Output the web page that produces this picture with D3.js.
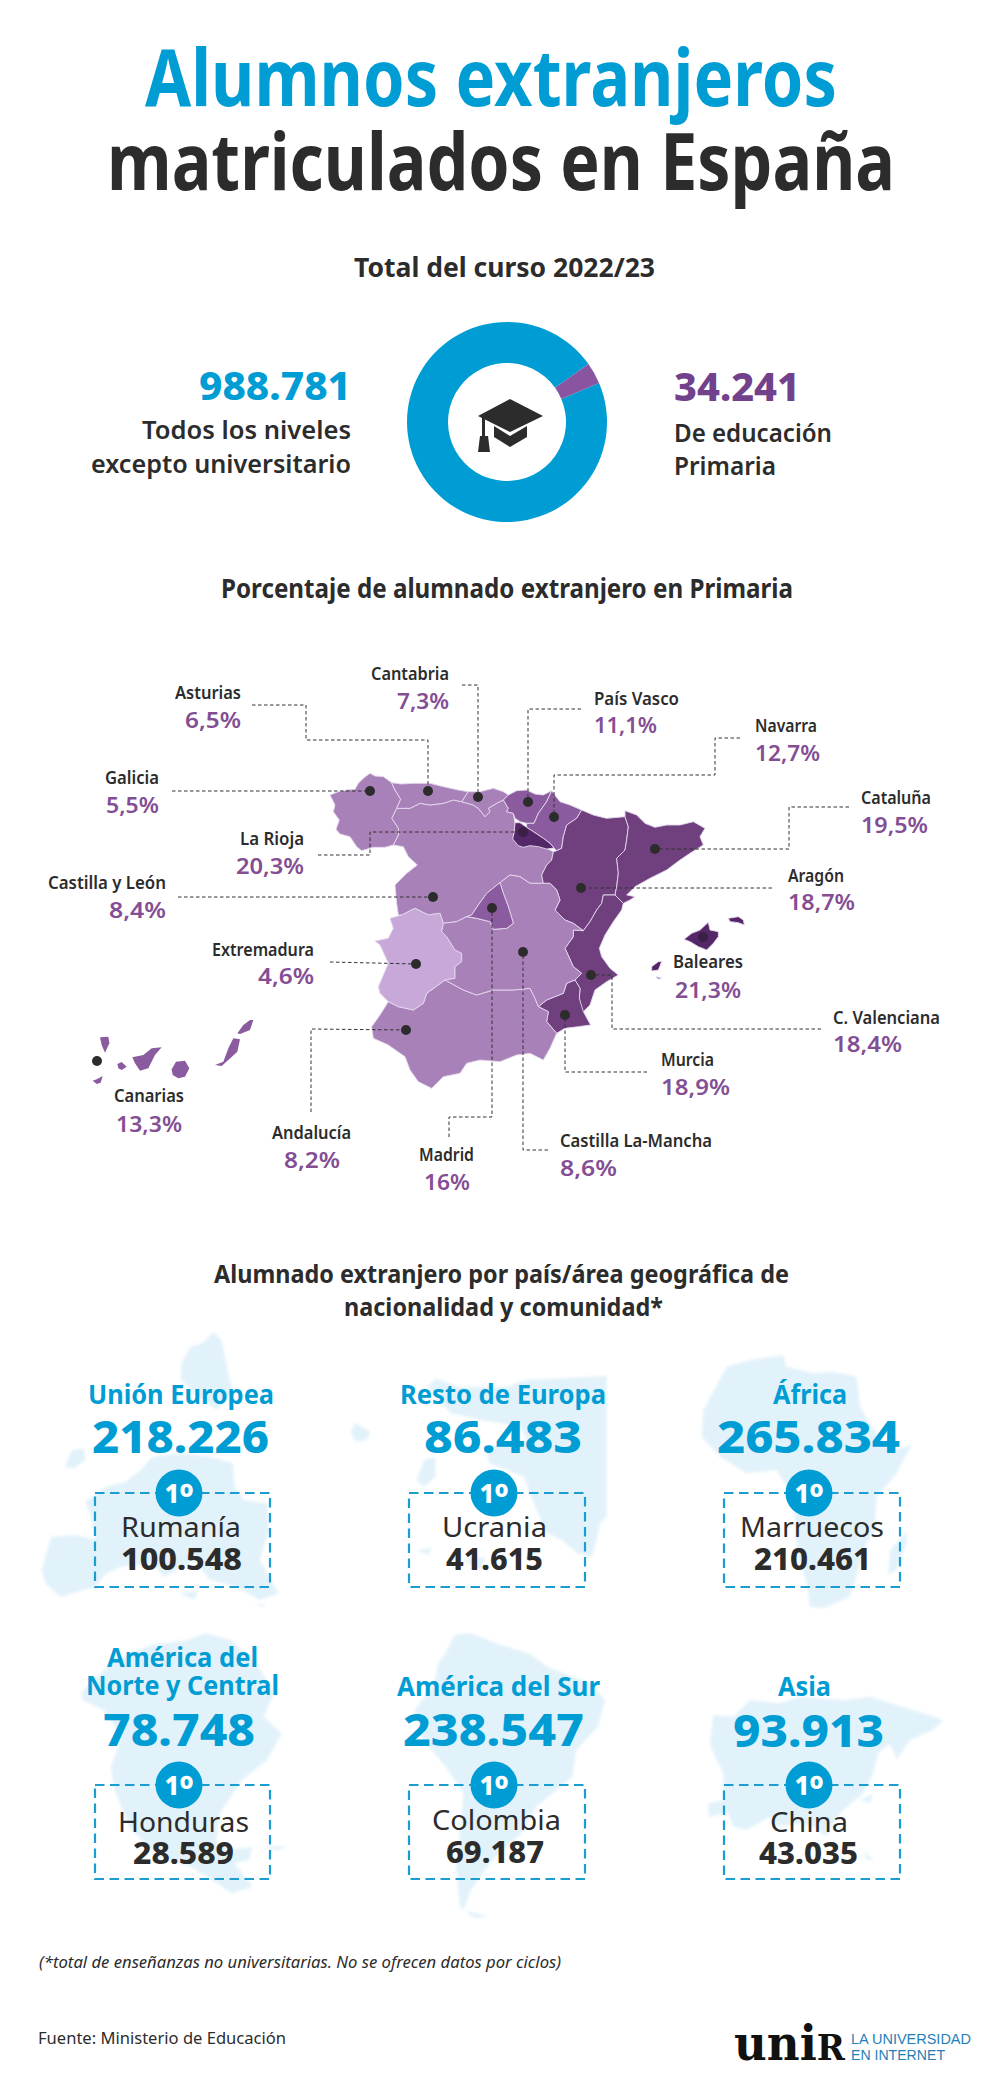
<!DOCTYPE html>
<html lang="es">
<head>
<meta charset="UTF-8">
<title>Alumnos extranjeros matriculados en España</title>
<script src="https://cdn.jsdelivr.net/npm/d3@7"></script>
<style>
  html, body { margin: 0; padding: 0; background: #fff; }
  svg { display: block; }
  text { font-family: "Noto Sans", "Open Sans", sans-serif; }
</style>
</head>
<body>
<div id="chart"></div>
<script>
// ---- data
var donutValues = [988781, 34241];

var regionNames = ['Asturias', 'Cantabria', 'País Vasco', 'Navarra', 'Galicia', 'La Rioja', 'Castilla y León',
  'Extremadura', 'Cataluña', 'Aragón', 'Baleares', 'C. Valenciana', 'Murcia', 'Canarias', 'Andalucía', 'Madrid', 'Castilla La-Mancha'];
var regionPct = [6.5, 7.3, 11.1, 12.7, 5.5, 20.3, 8.4, 4.6, 19.5, 18.7, 21.3, 18.4, 18.9, 13.3, 8.2, 16, 8.6];

var areaNames = [['Unión Europea'], ['Resto de Europa'], ['África'], ['América del', 'Norte y Central'], ['América del Sur'], ['Asia']];
var areaTotals = [218226, 86483, 265834, 78748, 238547, 93913];
var topCountries = ['Rumanía', 'Ucrania', 'Marruecos', 'Honduras', 'Colombia', 'China'];
var topValues = [100548, 41615, 210461, 28589, 69187, 43035];

// ---- region outlines, traced in the px of a 3x crop of the map
var regionShapes = {
  'Castilla y León': [[[212,205],[240,205],[270,190],[300,195],[340,190],[370,180],[395,185],[430,195],[445,205],[465,230],[480,215],[475,205],[500,190],[520,180],[535,205],[530,215],[550,220],[555,250],[550,295],[565,315],[580,320],[600,315],[625,318],[650,325],[670,335],[665,360],[650,375],[635,405],[640,430],[600,430],[570,410],[540,405],[510,428],[470,460],[445,495],[425,525],[410,530],[380,545],[340,550],[330,520],[295,525],[255,505],[215,525],[205,525],[200,490],[195,435],[230,400],[262,375],[235,350],[220,320],[190,315],[205,285],[205,265],[185,235],[200,205]]],
  'Galicia': [[[85,130],[100,115],[120,100],[135,108],[160,110],[185,128],[195,150],[212,178],[200,205],[185,235],[205,265],[205,285],[190,315],[165,322],[130,322],[95,332],[80,320],[60,290],[30,282],[18,268],[28,240],[10,215],[15,195],[0,165],[25,155],[50,150],[75,148]]],
  'Asturias': [[[185,128],[215,132],[250,130],[300,130],[340,140],[385,150],[415,155],[395,185],[370,180],[340,190],[300,195],[270,190],[240,205],[212,205],[200,205],[212,178],[195,150]]],
  'Cantabria': [[[415,155],[450,155],[490,145],[520,155],[535,165],[520,180],[500,190],[475,205],[480,215],[465,230],[445,205],[430,195],[395,185]]],
  'País Vasco': [[[520,180],[535,165],[560,152],[590,150],[615,162],[640,165],[665,152],[650,185],[625,220],[612,250],[590,250],[570,245],[555,235],[550,220],[530,215],[535,205]]],
  'Navarra': [[[665,152],[690,185],[720,195],[755,210],[740,235],[710,255],[700,290],[695,325],[680,332],[670,322],[660,310],[640,295],[610,275],[590,262],[590,250],[612,250],[625,220],[650,185]]],
  'La Rioja': [[[555,248],[570,248],[590,262],[610,275],[640,295],[660,310],[672,324],[650,327],[625,320],[600,317],[580,322],[565,317],[548,297],[553,275]]],
  'Aragón': [[[755,210],[790,225],[830,235],[885,230],[895,260],[890,300],[885,330],[860,355],[865,400],[860,440],[855,465],[820,465],[815,490],[800,510],[780,545],[760,572],[730,550],[705,540],[690,525],[675,510],[690,480],[680,450],[660,430],[640,430],[635,405],[650,375],[665,360],[670,335],[680,332],[695,325],[700,290],[710,255],[740,235]]],
  'Cataluña': [[[885,212],[920,225],[945,250],[975,262],[1010,255],[1050,255],[1090,245],[1125,265],[1110,290],[1120,315],[1080,340],[1050,360],[1010,390],[960,415],[915,440],[890,465],[915,470],[900,480],[880,490],[860,470],[855,465],[860,440],[865,400],[860,355],[885,330],[890,300],[895,260],[885,230]]],
  'C. Valenciana': [[[820,465],[855,465],[860,470],[880,490],[875,510],[850,545],[825,585],[808,625],[815,650],[840,685],[865,705],[830,725],[795,750],[780,795],[755,820],[748,775],[750,745],[735,720],[755,700],[730,680],[705,625],[730,590],[730,570],[760,572],[780,545],[800,510],[815,490]]],
  'Murcia': [[[735,720],[750,745],[748,775],[760,815],[782,855],[745,860],[705,865],[680,880],[650,845],[655,815],[625,800],[650,780],[700,760],[710,730]]],
  'Andalucía': [[[175,785],[205,800],[250,810],[280,790],[290,760],[345,720],[400,750],[440,765],[490,750],[550,750],[600,745],[615,775],[625,800],[655,815],[650,845],[680,880],[660,925],[640,960],[600,940],[560,945],[510,965],[450,960],[410,970],[390,1000],[340,1010],[305,1045],[265,1025],[240,990],[225,950],[175,915],[130,895],[125,860],[150,825]]],
  'Extremadura': [[[180,535],[215,525],[255,505],[295,525],[330,520],[340,550],[335,575],[350,590],[375,630],[395,640],[395,665],[375,680],[375,715],[345,720],[290,760],[280,790],[250,810],[205,800],[175,785],[150,760],[145,740],[175,670],[150,615],[135,603],[175,595],[190,565]]],
  'Castilla La-Mancha': [[[510,428],[540,405],[570,410],[600,430],[640,430],[660,430],[680,450],[690,480],[675,510],[690,525],[705,540],[730,550],[760,572],[730,570],[730,590],[705,625],[730,680],[755,700],[735,720],[710,730],[700,760],[650,780],[625,800],[615,775],[600,745],[550,750],[490,750],[440,765],[400,750],[345,720],[375,715],[375,680],[395,665],[395,640],[375,630],[350,590],[335,575],[340,550],[380,545],[410,530],[440,535],[480,545],[490,568],[530,565],[550,550],[535,500],[520,460]]],
  'Madrid': [[[510,428],[520,460],[535,500],[550,550],[530,565],[490,568],[480,545],[440,535],[410,530],[425,525],[445,495],[470,460]]],
  'Baleares': [
    [[1062,598],[1085,580],[1110,570],[1135,547],[1140,570],[1165,575],[1165,590],[1150,610],[1130,630],[1105,620],[1080,605]],
    [[1195,535],[1225,530],[1240,540],[1243,555],[1225,548],[1200,545]],
    [[965,680],[985,665],[995,665],[985,690],[965,693]],
    [[978,710],[995,715],[985,717]]
  ]
};
// same thing for the islands, in px of their own crop
var canaryShapes = [
  [[60,82],[85,80],[88,100],[75,128],[65,105]],
  [[38,212],[50,208],[68,198],[62,218],[50,222]],
  [[112,162],[125,156],[140,170],[125,180],[115,175]],
  [[157,142],[190,135],[215,115],[245,112],[225,135],[205,175],[180,182],[165,160]],
  [[275,178],[288,155],[315,152],[328,175],[315,200],[295,205],[278,195]],
  [[405,165],[430,155],[445,115],[460,85],[480,88],[472,125],[445,150],[425,168]],
  [[472,70],[490,45],[510,30],[520,30],[510,60],[480,72]]
];

// pale maps behind the six panels
var bgEurope = [
  [[480,95],[500,120],[510,170],[520,230],[530,270],[490,330],[450,300],[395,240],[395,190],[420,140],[450,130]],
  [[30,810],[55,710],[120,705],[170,720],[160,650],[145,605],[200,560],[250,545],[290,510],[320,470],[400,460],[470,470],[530,490],[535,560],[560,600],[620,610],[625,690],[600,780],[650,880],[600,900],[540,860],[470,840],[430,780],[350,830],[320,790],[240,800],[200,820],[170,860],[80,890],[40,850]],
  [[90,500],[110,450],[140,445],[145,480],[115,505]],
  [[390,880],[440,870],[430,900]],
  [[580,915],[620,912],[610,920]],
  // resto de Europa
  [[1060,235],[1120,260],[1250,260],[1290,240],[1507,228],[1507,650],[1490,670],[1470,770],[1430,760],[1390,720],[1350,700],[1310,590],[1290,530],[1200,490],[1190,440],[1300,420],[1280,380],[1180,360],[1100,340],[1060,290],[1040,260]],
  [[1010,540],[1030,480],[1060,470],[1060,530],[1030,560]],
  [[838,395],[850,370],[890,395],[880,420],[850,425]],
  [[1010,750],[1050,745],[1040,765]],
  [[1130,780],[1190,770],[1180,810]]
];
var bgAfrica = [
  [[40,240],[110,110],[180,90],[280,75],[290,110],[370,130],[430,125],[500,140],[510,230],[570,330],[610,360],[665,345],[620,430],[560,500],[555,600],[530,640],[480,800],[400,835],[360,830],[350,760],[320,660],[315,560],[290,470],[260,420],[170,430],[90,380],[35,320]],
  [[600,660],[650,605],[650,640],[620,720],[595,735]]
];
var bgAmericas = [
  [[60,215],[150,120],[250,75],[350,60],[400,40],[470,60],[540,130],[590,220],[560,290],[610,340],[570,420],[500,480],[440,580],[430,670],[470,690],[530,680],[520,720],[480,730],[530,800],[470,820],[420,780],[360,740],[270,710],[190,620],[150,510],[140,440],[170,350],[120,270],[60,240]],
  [[560,680],[625,678],[600,692]],
  [[1060,100],[1085,45],[1130,40],[1200,70],[1290,100],[1340,140],[1460,190],[1500,240],[1480,320],[1420,390],[1410,470],[1310,560],[1270,640],[1190,720],[1130,810],[1110,870],[1180,890],[1140,895],[1100,860],[1090,740],[1100,640],[1110,520],[1060,440],[1000,360],[975,270],[1030,190],[1040,130]]
];
var bgAsia = [
  [[40,165],[100,170],[150,120],[240,130],[300,110],[430,120],[510,110],[640,150],[730,180],[700,210],[630,240],[590,300],[570,250],[535,280],[520,340],[490,400],[430,450],[400,490],[380,530],[340,500],[300,490],[230,500],[210,470],[140,510],[100,500],[85,460],[25,470],[25,430],[70,420],[70,340],[40,280],[30,250]],
  [[480,420],[520,400],[510,430]],
  [[490,570],[520,600],[500,600]]
];

// ---- layout: [x0, x1, baseline] of every text, dots and leader paths
var labelPos = {
  'Asturias': { name: [175,241,699], pct: [185,241,728], dot: [428,791], leader: [[252,705],[306,705],[306,740],[428,740]] },
  'Cantabria': { name: [371,449,680], pct: [397,449,709], dot: [478,797], leader: [[462,685],[478,685]] },
  'País Vasco': { name: [594,679,705], pct: [594,657,733], dot: [528,802], leader: [[581,709],[528,709]] },
  'Navarra': { name: [755,817,732], pct: [755,820,761], dot: [554,817], leader: [[740,738],[715,738],[715,775],[554,775]] },
  'Galicia': { name: [105,159,784], pct: [106,159,813], dot: [370,791], leader: [[172,791]] },
  'La Rioja': { name: [240,304,845], pct: [236,304,874], dot: [523,832], leader: [[318,855],[370,855],[370,832]] },
  'Castilla y León': { name: [48,166,889], pct: [109,166,918], dot: [433,897], leader: [[178,897]] },
  'Extremadura': { name: [212,314,956], pct: [258,314,984], dot: [416,964], leader: [[330,962]] },
  'Cataluña': { name: [861,931,804], pct: [861,928,833], dot: [655,849], leader: [[849,807],[789,807],[789,849]] },
  'Aragón': { name: [788,844,882], pct: [788,855,910], dot: [581,888], leader: [[772,888]] },
  'Baleares': { name: [673,743,968], pct: [675,741,998], dot: [703,937], leader: null },
  'C. Valenciana': { name: [833,940,1024], pct: [833,902,1052], dot: [591,975], leader: [[821,1029],[612,1029],[612,975]] },
  'Murcia': { name: [661,714,1066], pct: [661,730,1095], dot: [565,1015], leader: [[647,1072],[565,1072]] },
  'Canarias': { name: [114,184,1102], pct: [116,182,1132], dot: [97,1061], leader: null },
  'Andalucía': { name: [272,351,1139], pct: [284,340,1168], dot: [406,1030], leader: [[311,1112],[311,1029]] },
  'Madrid': { name: [419,474,1161], pct: [424,470,1190], dot: [492,908], leader: [[449,1137],[449,1117],[492,1117]] },
  'Castilla La-Mancha': { name: [560,712,1147], pct: [560,617,1176], dot: [523,952], leader: [[548,1150],[523,1150]] }
};

var panelPos = [
  { title: [[88,274,1404]], total: [92,269,1453], box: [95,270,1493,1587], cx: 179, country: [121,241,1537], value: [121,242,1570] },
  { title: [[400,606,1404]], total: [424,582,1453], box: [409,585,1493,1587], cx: 494, country: [442,547,1537], value: [446,543,1570] },
  { title: [[773,847,1404]], total: [717,900,1453], box: [724,900,1493,1587], cx: 809, country: [740,884,1537], value: [754,871,1570] },
  { title: [[107,258,1667],[86,279,1695]], total: [103,255,1746], box: [95,270,1785,1879], cx: 179, country: [118,249,1832], value: [133,234,1864] },
  { title: [[397,600,1696]], total: [403,584,1746], box: [409,585,1785,1879], cx: 494, country: [432,561,1830], value: [446,544,1863] },
  { title: [[778,831,1696]], total: [733,884,1747], box: [724,900,1785,1879], cx: 809, country: [770,848,1832], value: [759,858,1864] }
];

var BLUE = '#009dd4', DARK = '#2c2c2c', PURPLE = '#844e94';

var svg = d3.select('#chart').append('svg').attr('width', 1000).attr('height', 2094);
var locale = d3.formatLocale({ decimal: ',', thousands: '.', grouping: [3], currency: ['', ''] });
var fmtInt = locale.format(',d');
var fmtPct = locale.format('.1~f');

svg.append('defs').append('filter').attr('id', 'soft')
  .append('feGaussianBlur').attr('stdDeviation', 1.6);

// text squeezed to the width it has in the picture
function fit(parent, str, pos, size, weight, fill, italic) {
  return parent.append('text')
    .attr('x', pos[0]).attr('y', pos[2])
    .attr('textLength', pos[1] - pos[0]).attr('lengthAdjust', 'spacingAndGlyphs')
    .attr('font-size', size).attr('font-weight', weight).attr('fill', fill)
    .attr('font-style', italic ? 'italic' : null)
    .text(str);
}

function ringPath(sx, sy) {
  return d3.line().x(function (p) { return sx(p[0]); }).y(function (p) { return sy(p[1]); }).curve(d3.curveLinearClosed);
}

// pale background maps first
function drawBg(polys, x0, y0, w, h, pw, ph) {
  var sx = d3.scaleLinear().domain([0, pw]).range([x0, x0 + w]);
  var sy = d3.scaleLinear().domain([0, ph]).range([y0, y0 + h]);
  svg.append('g').attr('filter', 'url(#soft)').selectAll('path').data(polys).enter().append('path')
    .attr('d', ringPath(sx, sy)).attr('fill', '#e2f2fa');
}
drawBg(bgEurope, 30, 1300, 600, 340, 1568, 1020);
drawBg(bgAfrica, 690, 1330, 260, 320, 780, 960);
drawBg(bgAmericas, 60, 1620, 570, 320, 1568, 960);
drawBg(bgAsia, 700, 1660, 270, 220, 810, 660);

// headline
fit(svg, 'Alumnos extranjeros', [145, 837, 106], 78, 700, BLUE);
fit(svg, 'matriculados en España', [107, 895, 190], 78, 700, DARK);
fit(svg, 'Total del curso 2022/23', [354, 655, 277], 26, 700, DARK);

// donut
var donut = svg.append('g').attr('transform', 'translate(507,422)');
var startDeg = 67;
var pie = d3.pie().sort(null).value(function (d) { return d; })
  .startAngle(startDeg * Math.PI / 180).endAngle((startDeg + 360) * Math.PI / 180);
// the purple slice is measured against the large total, so the blue part is what is left
var slices = pie([donutValues[0] - donutValues[1], donutValues[1]]);
var arc = d3.arc().innerRadius(59).outerRadius(100);
donut.selectAll('path').data(slices).enter().append('path')
  .attr('d', arc).attr('fill', function (d, i) { return i ? '#8a55a0' : BLUE; });

// mortarboard
var cap = svg.append('g').attr('fill', DARK);
cap.append('path').attr('d', 'M510,399L543,416L510,432L478,416Z');
cap.append('path').attr('d', 'M494,426L510,436L527,426V437L510,447L494,437Z');
cap.append('path').attr('d', 'M482,418H485V436H488L490,452H478L480,436H482Z');

fit(svg, fmtInt(donutValues[0]), [199, 351, 400], 40, 800, BLUE);
fit(svg, 'Todos los niveles', [142, 351, 439], 26, 600, DARK);
fit(svg, 'excepto universitario', [91, 351, 473], 26, 600, DARK);
fit(svg, fmtInt(donutValues[1]), [674, 800, 401], 40, 800, '#71418c');
fit(svg, 'De educación', [674, 832, 442], 26, 600, DARK);
fit(svg, 'Primaria', [674, 776, 475], 26, 600, DARK);

fit(svg, 'Porcentaje de alumnado extranjero en Primaria', [221, 793, 598], 26, 700, DARK);

// map
var mapX = d3.scaleLinear().domain([0, 1260]).range([330, 750]);
var mapY = d3.scaleLinear().domain([0, 1200]).range([740, 1140]);
var canX = d3.scaleLinear().domain([0, 660]).range([80, 300]);
var canY = d3.scaleLinear().domain([0, 330]).range([1010, 1120]);
var color = d3.scaleThreshold().domain([5, 10, 17, 20])
  .range(['#c7a8d8', '#a981b9', '#8b5ba0', '#6f3f7e', '#542768']);
var pctOf = function (name) { return regionPct[regionNames.indexOf(name)]; };

var mapG = svg.append('g');
Object.keys(regionShapes).forEach(function (name) {
  mapG.append('g').selectAll('path').data(regionShapes[name]).enter().append('path')
    .attr('d', ringPath(mapX, mapY))
    .attr('fill', color(pctOf(name)))
    .attr('stroke', '#e4d8ec').attr('stroke-width', 0.9).attr('stroke-linejoin', 'round');
});
mapG.append('g').selectAll('path').data(canaryShapes).enter().append('path')
  .attr('d', ringPath(canX, canY)).attr('fill', color(pctOf('Canarias')));

// leaders, dots and labels
var leaderLine = d3.line();
regionNames.forEach(function (name) {
  var pos = labelPos[name];
  if (pos.leader) {
    svg.append('path').attr('d', leaderLine(pos.leader.concat([pos.dot])))
      .attr('fill', 'none').attr('stroke', '#333').attr('stroke-width', 1).attr('stroke-dasharray', '3.5 2.5');
  }
});
regionNames.forEach(function (name, i) {
  var pos = labelPos[name];
  // on the two darkest regions the dot hardly shows
  svg.append('circle').attr('cx', pos.dot[0]).attr('cy', pos.dot[1]).attr('r', 5)
    .attr('fill', regionPct[i] > 20 ? '#3a2045' : DARK);
  fit(svg, name, pos.name, 18, 600, DARK);
  fit(svg, fmtPct(regionPct[i]) + '%', pos.pct, 22, 600, PURPLE);
});

// panels
fit(svg, 'Alumnado extranjero por país/área geográfica de', [214, 789, 1283], 25, 700, DARK);
fit(svg, 'nacionalidad y comunidad*', [344, 663, 1316], 25, 700, DARK);

areaNames.forEach(function (lines, i) {
  var p = panelPos[i];
  lines.forEach(function (line, k) { fit(svg, line, p.title[k], 27, 700, BLUE); });
  fit(svg, fmtInt(areaTotals[i]), p.total, 44, 800, BLUE);
  svg.append('rect')
    .attr('x', p.box[0]).attr('y', p.box[2])
    .attr('width', p.box[1] - p.box[0]).attr('height', p.box[3] - p.box[2])
    .attr('fill', 'none').attr('stroke', '#1a9dd0').attr('stroke-width', 2.2).attr('stroke-dasharray', '9.5 5.5');
  svg.append('circle').attr('cx', p.cx).attr('cy', p.box[2]).attr('r', 23.5).attr('fill', BLUE);
  var rank = svg.append('text').attr('x', p.cx).attr('y', p.box[2] + 10)
    .attr('text-anchor', 'middle').attr('font-size', 26).attr('font-weight', 800).attr('fill', '#fff');
  rank.append('tspan').text('1');
  rank.append('tspan').attr('font-size', 36).attr('dy', 7).text('º');
  fit(svg, topCountries[i], p.country, 27, 400, DARK);
  fit(svg, fmtInt(topValues[i]), p.value, 30, 800, DARK);
});

// footer
fit(svg, '(*total de enseñanzas no universitarias. No se ofrecen datos por ciclos)', [39, 561, 1968], 17, 400, DARK, true);
fit(svg, 'Fuente: Ministerio de Educación', [38, 286, 2044], 17, 400, DARK);

var logo = svg.append('text').attr('font-weight', 700).attr('fill', '#111')
  .style('font-family', '"DejaVu Serif", serif').attr('font-size', 48);
logo.append('tspan').text('uni');
logo.append('tspan').attr('font-size', 36).text('R');
logo.attr('transform', 'translate(734,2060) scale(' + (111 / logo.node().getComputedTextLength()) + ',1)');
fit(svg, 'LA UNIVERSIDAD', [851, 971, 2044], 14, 400, '#1f7fb8').style('font-family', 'Liberation Sans');
fit(svg, 'EN INTERNET', [851, 945, 2060], 14, 400, '#1f7fb8').style('font-family', 'Liberation Sans');
</script>
</body>
</html>
